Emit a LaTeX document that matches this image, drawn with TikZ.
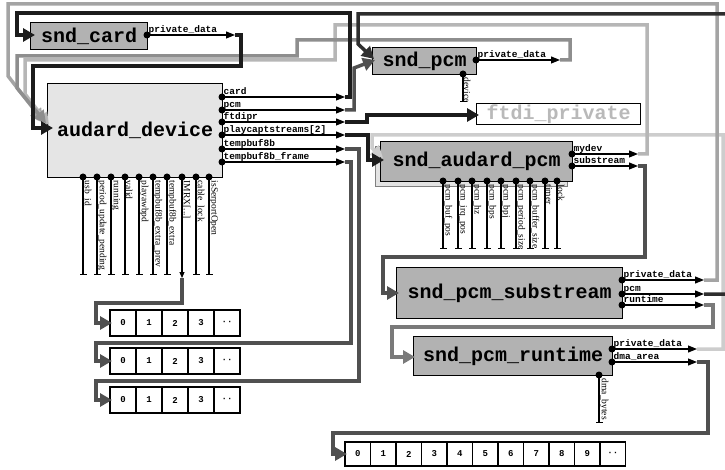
\documentclass[tikz,border=0pt]{standalone}
\usepackage{fontspec}
\setmainfont{Liberation Serif}
\setmonofont{Liberation Mono}
\usepackage{xcolor}
\usepackage{tikz}
\usetikzlibrary{arrows.meta}

\definecolor{lkblack}{HTML}{1C1C1C}
\definecolor{lkdark}{HTML}{505050}
\definecolor{lkpcm}{HTML}{2E2E2E}
\definecolor{lkmid}{HTML}{7A7A7A}
\definecolor{lkgray}{HTML}{8E8E8E}
\definecolor{lktop}{HTML}{A4A4A4}
\definecolor{lklight}{HTML}{B6B6B6}
\definecolor{lkpale}{HTML}{CDCDCD}

\begin{document}
\begin{tikzpicture}[x=1pt, y=-1pt, line join=miter,
  box/.style={draw, line width=1.4pt, fill=gray!60, anchor=north west, inner sep=0pt,
              font=\ttfamily\bfseries\fontsize{20}{20}\selectfont},
  ptr/.style={line width=1.1pt, -{Triangle[length=9pt,width=7pt]}},
  fld/.style={line width=1.1pt, -{Bar[width=7pt,line width=1.1pt]}},
  link/.style={line width=3.5pt, -{Triangle[length=12pt,width=13pt]}},
  plbl/.style={font=\ttfamily\bfseries\fontsize{9.5}{9.5}\selectfont, inner sep=0pt,
               anchor=base west, xshift=1.5pt, yshift=2.5pt},
  vlbl/.style={font=\fontsize{9.5}{9.5}\selectfont, rotate=-90, anchor=south west,
               inner sep=0.5pt, xshift=1pt},
  cell/.style={draw, line width=1.2pt, minimum width=26pt, minimum height=26pt,
               inner sep=0pt, font=\ttfamily\bfseries\fontsize{9}{9}\selectfont},
  bigcell/.style={cell, minimum width=25.5pt, minimum height=24pt}]

\useasboundingbox (0,0) rectangle (725,470);

% the structs
\node[box, minimum width=117pt, minimum height=27pt] (card) at (30,22) {snd\_card};
\node[box, fill=gray!20, minimum width=175pt, minimum height=94pt] (dev) at (47,83) {audard\_device};
\node[box, minimum width=104pt, minimum height=27pt] (pcm) at (372,47) {snd\_pcm};
\node[box, fill=white, text=gray!55, minimum width=164pt, minimum height=21pt] (ftdi) at (476,103) {ftdi\_private};
\node[box, draw=gray, fill=gray!22, line width=1.2pt, minimum width=192pt, minimum height=40pt] (apcmb) at (375,146) {};
\node[box, minimum width=192pt, minimum height=40pt] (apcm) at (380,141) {snd\_audard\_pcm};
\node[box, minimum width=226pt, minimum height=51pt] (sub) at (396,267) {snd\_pcm\_substream};
\node[box, minimum width=199pt, minimum height=39pt] (rt) at (413,336) {snd\_pcm\_runtime};

% buffers
\foreach \a/\y in {1/323, 2/361, 3/400} {
  \foreach \i in {0,...,3}
    \node[cell] (a\a-\i) at ({123+26*\i},\y) {\i};
  \node[cell] (a\a-4) at (227,\y) {··};
}
\foreach \i in {0,...,9}
  \node[bigcell] (big-\i) at ({357.75+25.5*\i},454) {\i};
\node[bigcell] (big-10) at (612.75,454) {··};

% where the links come in
\coordinate (card-in) at (35,35);
\coordinate (dev-in1) at (53,128);
\coordinate (dev-in2) at (46,123);
\coordinate (dev-in3) at (49,125);
\coordinate (dev-in4) at (43,121);
\coordinate (pcm-in1) at (375,60);
\coordinate (pcm-in2) at (374,59);
\coordinate (ftdi-in) at (479,115);
\coordinate (apcm-in1) at (384,160);
\coordinate (apcm-in2) at (383,158);
\coordinate (sub-in) at (399,293);
\coordinate (rt-in) at (415,357);
\coordinate (a1-in) at (112,323);
\coordinate (a2-in) at (112,361);
\coordinate (a3-in) at (112,400);
\coordinate (big-in) at (347,454);

% pointer fields
\coordinate (card-pd) at (147,35);
\coordinate (card-pd-end) at (235,35);
\draw[ptr] (card-pd) -- (card-pd-end);
\node[plbl] (card-pd-lbl) at (card-pd) {private\_data};

\foreach \n/\y/\t in {card/97/card, pcm/110/pcm, ftdipr/122/ftdipr,
    pcs/135/{playcaptstreams[2]}, tb/149/tempbuf8b, tbf/162/tempbuf8b\_frame} {
  \coordinate (dev-\n) at (222,\y);
  \coordinate (dev-\n-end) at (345,\y);
  \draw[ptr] (dev-\n) -- (dev-\n-end);
  \node[plbl] (dev-\n-lbl) at (dev-\n) {\t};
}
\coordinate (pcm-pd) at (476,60);
\coordinate (pcm-pd-end) at (560,60);
\draw[ptr] (pcm-pd) -- (pcm-pd-end);
\node[plbl] (pcm-pd-lbl) at (pcm-pd) {private\_data};

\foreach \n/\y/\t in {mydev/154/mydev, sub/166/substream} {
  \coordinate (apcm-\n) at (572,\y);
  \coordinate (apcm-\n-end) at (638,\y);
  \draw[ptr] (apcm-\n) -- (apcm-\n-end);
  \node[plbl] (apcm-\n-lbl) at (apcm-\n) {\t};
}
\foreach \n/\y/\t in {pd/280/private\_data, pcm/294/pcm, rt/305/runtime} {
  \coordinate (sub-\n) at (622,\y);
  \coordinate (sub-\n-end) at (704,\y);
  \draw[ptr] (sub-\n) -- (sub-\n-end);
  \node[plbl] (sub-\n-lbl) at (sub-\n) {\t};
}
\foreach \n/\y/\t in {pd/349/private\_data, dma/362/dma\_area} {
  \coordinate (rt-\n) at (612,\y);
  \coordinate (rt-\n-end) at (697,\y);
  \draw[ptr] (rt-\n) -- (rt-\n-end);
  \node[plbl] (rt-\n-lbl) at (rt-\n) {\t};
}

% plain fields
\foreach \x/\t [count=\i] in {83/usb\_id, 97/period\_update\_pending, 111/running,
    125/valid, 139/playawbpd, 153/tempbuf8b\_extra\_prev, 167/tempbuf8b\_extra,
    196/cable\_lock, 209/isSerportOpen} {
  \coordinate (dev-f\i) at (\x,177);
  \draw[fld] (dev-f\i) -- (\x,275);
  \node[vlbl] (dev-f\i-lbl) at (\x,179) {\t};
}
\coordinate (dev-imrx) at (182,177);
\coordinate (dev-imrx-end) at (182,278);
\draw[ptr, -{Triangle[length=6pt,width=5pt]}] (dev-imrx) -- (dev-imrx-end);
\node[vlbl] (dev-imrx-lbl) at (182,179) {IMRX[...]};

\foreach \x/\t [count=\i] in {443/pcm\_buf\_pos, 458/pcm\_irq\_pos, 472/pcm\_hz,
    487/pcm\_bps, 501/pcm\_bpj, 516/pcm\_period\_size, 530/pcm\_buffer\_size,
    545/timer, 557/lock} {
  \coordinate (apcm-f\i) at (\x,181);
  \draw[fld] (apcm-f\i) -- (\x,249);
  \node[vlbl] (apcm-f\i-lbl) at (\x,183) {\t};
}
\coordinate (pcm-dev) at (463,74);
\draw[fld] (pcm-dev) -- (463,102);
\node[vlbl] (pcm-dev-lbl) at (463,76) {device};
\coordinate (rt-bytes) at (599,375);
\draw[fld] (rt-bytes) -- (599,423);
\node[vlbl] (rt-bytes-lbl) at (599,377) {dma\_bytes};

% links, pale ones first
\draw[link, lkpale] (rt-pd-end) -- ++(26,0) |- (372,135) -- (372,148) -- (apcm-in2);
\draw[link, lktop] (sub-pd-end) -- ++(13,0) |- (8,4) -- (8,76) -- (dev-in4);
\draw[link, lklight] (apcm-mydev-end) -- ++(9,0) |- (335,25) |- (25,60) -- (25,94) -- (dev-in3);
\draw[link, lkgray] (pcm-pd-end) -- ++(10,0) |- (297,40) |- (17,56) -- (17,88) -- (dev-in2);
\draw[link, lkmid] (sub-rt-end) -- ++(9,0) |- (392,327) |- (rt-in);
\draw[link, lkdark] (dev-pcm-end) -- ++(9,0) -- (354,68) -- (pcm-in1);
\draw[link, lkdark] (dev-tb-end) -- ++(14,0) |- (96,381) |- (a3-in);
\draw[link, lkdark] (dev-tbf-end) -- ++(6,0) |- (96,343) |- (a2-in);
\draw[link, lkdark] (dev-imrx-end) |- (96,303) |- (a1-in);
\draw[link, lkdark] (apcm-sub-end) -- ++(7,0) |- (383,257) |- (sub-in);
\draw[link, lkdark] (rt-dma-end) -- ++(11,0) |- (333,433) |- (big-in);
\draw[link, lkpcm] (sub-pcm-end) -- ++(30,0) |- (358,14) -- (358,44) -- (pcm-in2);
\draw[link, lkblack] (card-pd-end) -- ++(6,0) |- (33,66) |- (dev-in1);
\draw[link, lkblack] (dev-card-end) -- ++(5,0) |- (17,13) |- (card-in);
\draw[link, lkblack] (dev-ftdipr-end) -- ++(22,0) |- (ftdi-in);
\draw[link, lkblack] (dev-pcs-end) -- ++(23,0) |- (apcm-in1);

% the dots on top
\foreach \p in {card-pd, dev-card, dev-pcm, dev-ftdipr, dev-pcs, dev-tb, dev-tbf,
    pcm-pd, apcm-mydev, apcm-sub, sub-pd, sub-pcm, sub-rt, rt-pd, rt-dma,
    dev-f1, dev-f2, dev-f3, dev-f4, dev-f5, dev-f6, dev-f7, dev-f8, dev-f9, dev-imrx,
    apcm-f1, apcm-f2, apcm-f3, apcm-f4, apcm-f5, apcm-f6, apcm-f7, apcm-f8, apcm-f9,
    pcm-dev, rt-bytes}
  \fill (\p) circle (3.5pt);
\end{tikzpicture}
\end{document}
